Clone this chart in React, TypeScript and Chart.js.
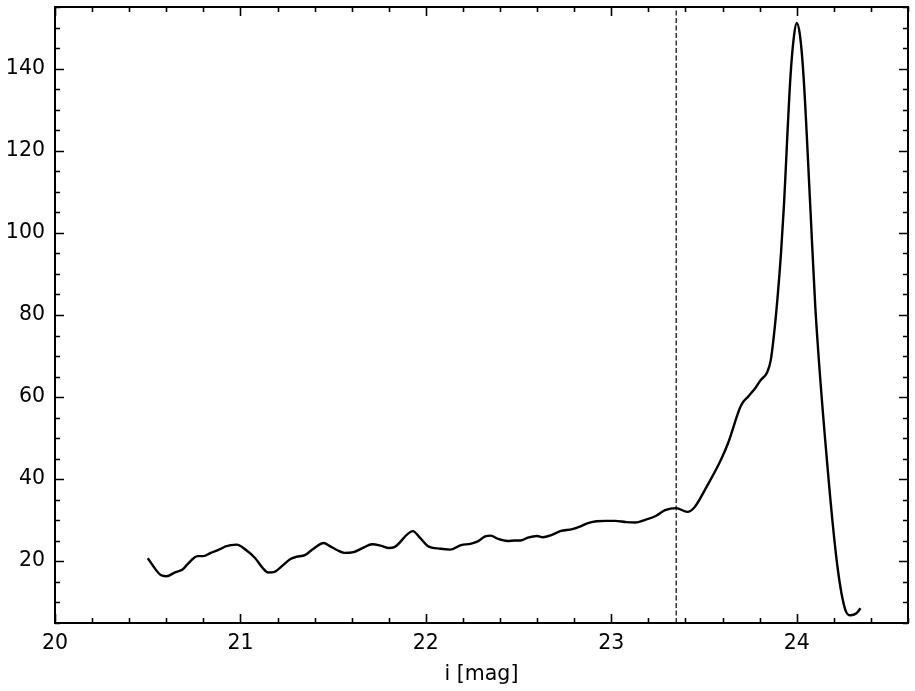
import React, { useEffect, useRef } from "react";
import { Chart, registerables } from "chart.js";

Chart.register(...registerables);

const magValues = [
  20.5, 20.57, 20.6, 20.65, 20.69, 20.71, 20.77, 20.8, 20.84, 20.89, 20.92, 20.98,
  21.03, 21.08, 21.12, 21.15, 21.18, 21.23, 21.27, 21.3, 21.35, 21.39, 21.45, 21.48, 21.52,
  21.56, 21.61, 21.66, 21.71, 21.76, 21.8, 21.83, 21.93, 21.97, 22.01, 22.08, 22.13, 22.19,
  22.24, 22.28, 22.32, 22.35, 22.39, 22.44, 22.48, 22.51, 22.55, 22.6, 22.63, 22.68, 22.725,
  22.79, 22.83, 22.87, 22.92, 22.97, 23.02, 23.08, 23.13, 23.18, 23.24, 23.29, 23.35, 23.41,
  23.45, 23.51, 23.59, 23.63, 23.7, 23.74, 23.78, 23.805, 23.84, 23.86, 23.878, 23.896,
  23.915, 23.93, 23.966, 23.985, 24.0, 24.018, 24.037, 24.074, 24.1, 24.166, 24.22, 24.263,
  24.29, 24.32, 24.344,
];
const countValues = [
  20.7, 16.6, 16.3, 17.3, 18.0, 19.0, 21.2, 21.2, 22.0, 22.9, 23.6, 24.0,
  22.7, 20.7, 18.3, 17.2, 17.3, 19.0, 20.5, 21.0, 21.5, 22.9, 24.4, 23.7, 22.7,
  22.0, 22.2, 23.2, 24.1, 23.7, 23.2, 23.4, 27.3, 25.6, 23.7, 23.0, 22.8, 23.9,
  24.2, 24.8, 26.0, 26.2, 25.4, 24.9, 25.0, 25.0, 25.7, 26.1, 25.8, 26.4, 27.3,
  27.8, 28.4, 29.2, 29.7, 29.8, 29.8, 29.5, 29.4, 30.0, 31.0, 32.4, 32.9, 32.0,
  33.2, 37.8, 44.6, 48.8, 58.0, 60.2, 62.4, 64.1, 66.0, 69.0, 75.5, 84.0,
  95.0, 106.0, 138.0, 148.0, 151.2, 148.0, 138.0, 105.6, 82.0, 42.9, 18.5, 8.0,
  6.8, 7.2, 8.5,
];
const cutoffMag = 23.35;

const xMin = 20;
const xMax = 24.6;
const yMin = 4.9;
const yMax = 155.1;
const xMajorTicks = [20, 21, 22, 23, 24];
const yMajorTicks = [20, 40, 60, 80, 100, 120, 140];
const xMinorStep = 0.2;
const yMinorStep = 5;

const FONT = "'DejaVu Sans', sans-serif";
const FONT_SIZE = 20.5;

function minorValues(lo: number, hi: number, step: number) {
  const out: number[] = [];
  const start = Math.ceil(lo / step - 1e-9);
  for (let k = start; k * step <= hi + 1e-9; k++) out.push(+(k * step).toFixed(6));
  return out;
}

const frameTicksPlugin = {
  id: "frameTicks",
  afterDraw(chart: any) {
    const { ctx, chartArea } = chart;
    const xs = chart.scales.x;
    const ys = chart.scales.y;
    const { left, right, top, bottom } = chartArea;
    ctx.save();
    ctx.strokeStyle = "#000";
    ctx.lineWidth = 1.6;
    const majorLen = 9;
    const minorLen = 5;
    ctx.beginPath();
    minorValues(xMin, xMax, xMinorStep).forEach((v) => {
      const isMajor = xMajorTicks.some((m) => Math.abs(m - v) < 1e-6);
      const len = isMajor ? majorLen : minorLen;
      const p = Math.round(xs.getPixelForValue(v)) + 0.5;
      ctx.moveTo(p, bottom);
      ctx.lineTo(p, bottom - len);
      ctx.moveTo(p, top);
      ctx.lineTo(p, top + len);
    });
    minorValues(yMin, yMax, yMinorStep).forEach((v) => {
      const isMajor = yMajorTicks.some((m) => Math.abs(m - v) < 1e-6);
      const len = isMajor ? majorLen : minorLen;
      const p = Math.round(ys.getPixelForValue(v)) + 0.5;
      ctx.moveTo(left, p);
      ctx.lineTo(left + len, p);
      ctx.moveTo(right, p);
      ctx.lineTo(right - len, p);
    });
    ctx.stroke();
    ctx.lineWidth = 2;
    ctx.strokeRect(left, top, right - left, bottom - top);
    ctx.restore();
  },
};

export default function App() {
  const ref = useRef<HTMLCanvasElement | null>(null);
  useEffect(() => {
    if (!ref.current) return;
    Chart.defaults.color = "#000";
    const chart = new Chart(ref.current, {
      type: "scatter",
      data: {
        datasets: [
          {
            data: magValues.map((m, i) => ({ x: m, y: countValues[i] })),
            showLine: true,
            borderColor: "#000",
            borderWidth: 2.4,
            pointRadius: 0,
            cubicInterpolationMode: "monotone",
          } as any,
          {
            data: [
              { x: cutoffMag, y: yMin },
              { x: cutoffMag, y: yMax },
            ],
            showLine: true,
            borderColor: "#000",
            borderWidth: 1.2,
            borderDash: [5, 2.5],
            pointRadius: 0,
          } as any,
        ],
      },
      options: {
        animation: false,
        responsive: true,
        maintainAspectRatio: false,
        layout: { padding: { top: 7, right: 7, left: 0, bottom: 0 } },
        plugins: {
          legend: { display: false },
          tooltip: { enabled: false },
        },
        scales: {
          x: {
            type: "linear",
            min: xMin,
            max: xMax,
            grid: { display: false, drawTicks: false },
            border: { display: false },
            afterBuildTicks: (s: any) => {
              s.ticks = xMajorTicks.map((v) => ({ value: v }));
            },
            afterFit: (s: any) => {
              s.height = 68;
              s.paddingLeft = 0;
              s.paddingRight = 0;
            },
            ticks: {
              padding: 8,
              maxRotation: 0,
              font: { family: FONT, size: FONT_SIZE },
              color: "#000",
              callback: (v: any) => String(v),
            },
            title: {
              display: true,
              text: "i [mag]",
              font: { family: FONT, size: FONT_SIZE },
              color: "#000",
              padding: { top: 0, bottom: 4 },
            },
          },
          y: {
            type: "linear",
            min: yMin,
            max: yMax,
            grid: { display: false, drawTicks: false },
            border: { display: false },
            afterBuildTicks: (s: any) => {
              s.ticks = yMajorTicks.map((v) => ({ value: v }));
            },
            afterFit: (s: any) => {
              s.width = 55;
              s.paddingTop = 0;
              s.paddingBottom = 0;
            },
            ticks: {
              padding: 10,
              font: { family: FONT, size: FONT_SIZE },
              color: "#000",
              callback: (v: any) => String(v),
            },
          },
        },
      } as any,
      plugins: [frameTicksPlugin],
    });
    return () => chart.destroy();
  }, []);
  return (
    <div style={{ position: "absolute", left: 0, top: 0, width: 915, height: 691, background: "#fff" }}>
      <canvas ref={ref} />
    </div>
  );
}
